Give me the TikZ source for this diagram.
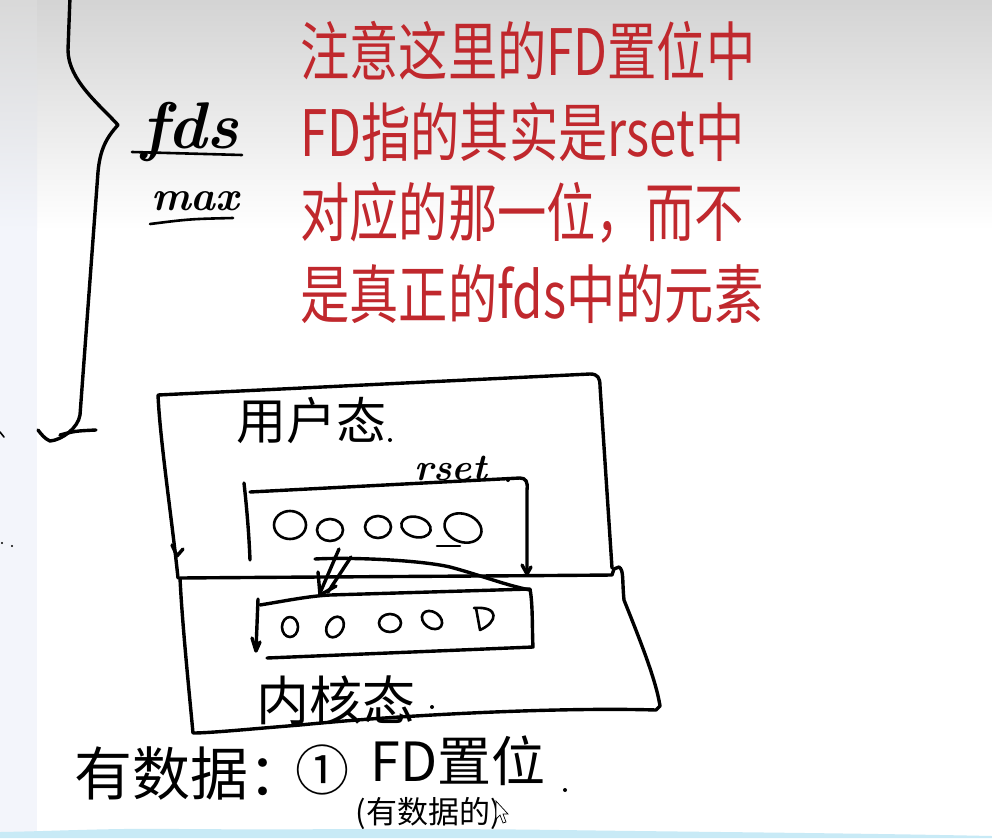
\documentclass[tikz,border=0pt]{standalone}
\usepackage{fontspec}
\newfontfamily\cjk{Noto Sans CJK SC}
\newfontfamily\cjkred[FakeStretch=0.77]{Noto Sans CJK SC}
\usetikzlibrary{arrows.meta}
\definecolor{redtxt}{RGB}{192,40,45}
\definecolor{stripc}{RGB}{243,245,251}
\definecolor{bandc}{RGB}{200,234,246}
\tikzset{
  hand/.style={line width=3.4pt, line cap=round, line join=round, black},
  thinhand/.style={line width=2.6pt, line cap=round, line join=round, black},
  redline/.style={redtxt, anchor=base west, inner sep=0pt, font=\cjkred\fontsize{64}{64}\selectfont},
  handtxt/.style={inner sep=0pt, font=\cjk\fontsize{#1}{#1}\selectfont},
  tight/.style={text height=0.84em, text depth=0.1em},
  latinhand/.style={inner sep=0pt, anchor=base west, font=\bfseries\itshape\fontsize{#1}{#1}\selectfont},
  zero/.style={thinhand}
}
\begin{document}
\begin{tikzpicture}[x=1pt,y=-1pt]
\useasboundingbox (0,0) rectangle (992,838);
% background
\fill[white] (0,0) rectangle (992,838);
\shade[top color=black!17, bottom color=white] (0,0) rectangle (992,230);
\shade[top color=black!15, bottom color=stripc] (0,0) rectangle (37,230);
\fill[stripc] (0,229.5) rectangle (37,838);
\fill[bandc] (0,838) -- (0,832) .. controls (60,831) and (110,828) .. (180,829)
  .. controls (300,830) and (420,828) .. (560,830) .. controls (700,832) and (850,833) .. (992,836) -- (992,838) -- cycle;

% brace
\draw[hand] (70,-3) -- (68,50) .. controls (68,80) and (100,105) .. (118,125)
  .. controls (106,138) and (100,150) .. (98,172) -- (80,415)
  .. controls (78,428) and (62,440) .. (50,441) .. controls (45,439) and (41,434) .. (38,430);
\draw[hand] (60,435) .. controls (75,431) .. (96,430);
\draw[line width=1.6pt, line cap=round] (0,432) -- (4,437);
\fill (2,543) circle (1.2pt) (12,546) circle (1.2pt);

% fds / max
\node[latinhand=66] (fds) at (141,148) {fds};
\draw[thinhand] (132,152) -- (242,155);
\node[latinhand=42] (max) at (151,210) {max};
\draw[thinhand] (150,224) .. controls (190,219) .. (233,218);

% red notes
\node[redline] (l1) at (300,75) {注意这里的FD置位中};
\node[redline] (l2) at (300,156) {FD指的其实是rset中};
\node[redline] (l3) at (300,236) {对应的那一位，而不};
\node[redline] (l4) at (300,318) {是真正的fds中的元素};

% upper outer box (user mode)
\draw[hand] (178,578) .. controls (172,520) and (160,440) .. (158,395)
  -- (590,374) .. controls (598,374) and (600,378) .. (600,386) -- (612,568);
\draw[hand] (172,545) -- (177,556) -- (183,549);
% separating line and lower outer box (kernel mode)
\draw[hand] (180,578) .. controls (300,577) and (500,576) .. (612,575) -- (614,569) -- (619,567)
  .. controls (624,570) and (622,580) .. (624,600) .. controls (640,640) and (656,680) .. (660,706)
  -- (656,710) .. controls (560,707) and (400,715) .. (300,725) .. controls (250,729) and (210,733) .. (193,733)
  .. controls (188,680) and (182,620) .. (180,578);

% rset box
\draw[hand] (244,483) .. controls (247,510) and (249,535) .. (250,560);
\draw[hand] (250,492) -- (520,478) .. controls (526,478) and (528,482) .. (527,490) -- (527,573);
\draw[hand] (522,565) -- (527,574) -- (531,567);
% curve into lower inner box
\draw[hand] (315,559) .. controls (350,557) and (420,560) .. (450,567) .. controls (480,575) and (505,585) .. (530,590);
% lower inner box
\draw[hand] (260,605) .. controls (290,600) and (310,596) .. (330,595) -- (530,589)
  .. controls (533,605) and (532,630) .. (533,647) -- (267,658);
\draw[hand] (258,599) -- (256,650);
\draw[hand] (252,638) -- (256,651) -- (260,642);
% double arrow
\draw[hand] (339,549) -- (320,593);
\draw[hand] (351,557) -- (328,592);
\draw[hand] (318,572) -- (320,595) -- (336,586);

% zeros upper row
\draw[zero] (290,525) ellipse [x radius=16, y radius=14];
\draw[zero] (330,530) ellipse [x radius=13, y radius=11];
\draw[zero] (378,527) ellipse [x radius=13, y radius=11];
\draw[zero, rotate around={-15:(416,527)}] (416,527) ellipse [x radius=15, y radius=10];
\draw[zero, rotate around={-20:(463,528)}] (463,528) ellipse [x radius=19, y radius=14];
\draw[thinhand] (437,546) -- (460,546);
% zeros lower row
\draw[zero] (290,627) ellipse [x radius=8, y radius=10];
\draw[zero, rotate around={-30:(335,627)}] (335,627) ellipse [x radius=8, y radius=11];
\draw[zero] (390,623) ellipse [x radius=11, y radius=9];
\draw[zero, rotate around={-35:(432,620)}] (432,620) ellipse [x radius=11, y radius=8];
\draw[zero] (476,608) -- (480,630) .. controls (498,622) and (500,606) .. (474,608);

% labels in boxes
\node[handtxt=50, anchor=west] (user) at (236,421) {用户态};
\fill (390,440) circle (2pt);
\node[latinhand=38] (rset) at (414,480) {rset};
\fill (508,480) circle (2pt);
\node[handtxt=53, anchor=west] (kernel) at (256,700) {内核态};
\fill (432,707) circle (2pt);

% bottom text
\node[handtxt=58, anchor=west] (b1) at (74,774) {有数据：};
\node[handtxt=54] (b2) at (322,770) {①};
\node[handtxt=54, tight, anchor=west] (b3) at (370,778) {FD置位};
\fill (565,790) circle (2pt);
\node[handtxt=31, tight] (b4) at (428,820) {(有数据的)};
% cursor
\draw[line width=0.7pt, fill=white] (496,801) -- (496,819) -- (500,815) -- (503,823) -- (506,822) -- (503,814) -- (508,814) -- cycle;
\end{tikzpicture}
\end{document}
